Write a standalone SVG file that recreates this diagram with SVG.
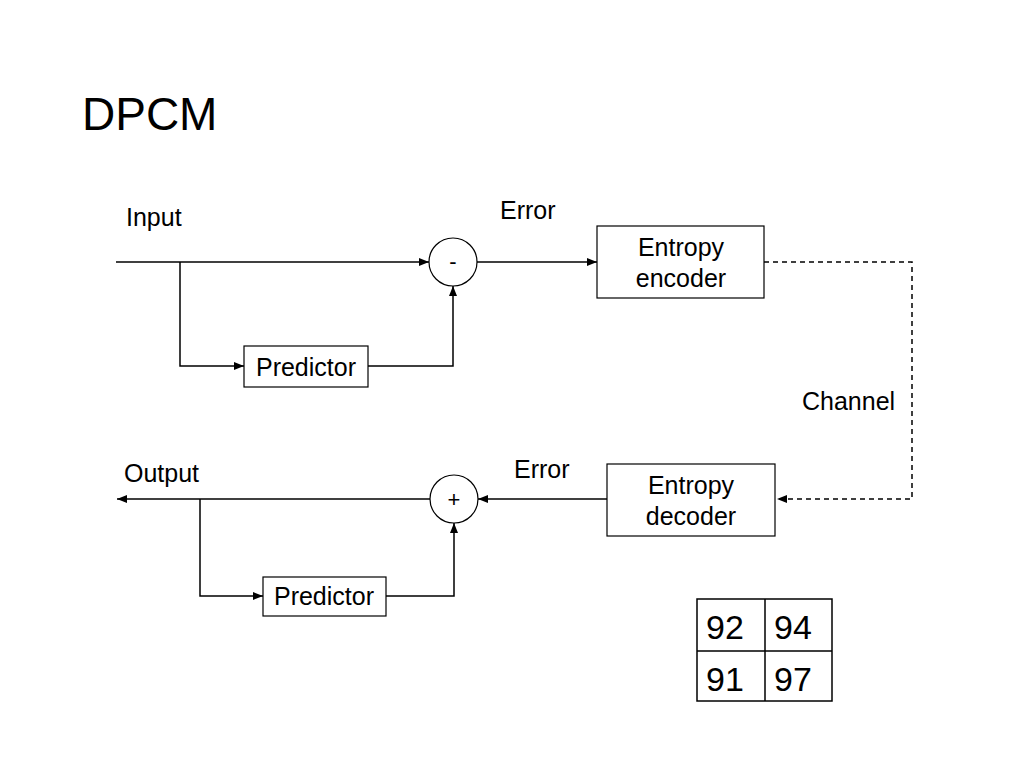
<svg xmlns="http://www.w3.org/2000/svg" width="1024" height="768" viewBox="0 0 1024 768">
<defs>
<marker id="ah" viewBox="0 0 10 10" refX="10" refY="5" markerWidth="10" markerHeight="10" markerUnits="userSpaceOnUse" orient="auto">
<path d="M0,1 L10,5 L0,9 z" fill="#000"/>
</marker>
</defs>
<style>
text{font-family:"Liberation Sans",Arial,sans-serif;fill:#000}
.box{fill:#fff;stroke:#000;stroke-width:1.2}
.ln{fill:none;stroke:#000;stroke-width:1.5}
.dash{fill:none;stroke:#000;stroke-width:1.5;stroke-dasharray:5,4}
.lbl{font-size:25px}
.num{font-size:34px}
</style>
<rect width="1024" height="768" fill="#fff"/>
<text x="82" y="130" font-size="46">DPCM</text>
<text class="lbl" x="126" y="226">Input</text>
<text class="lbl" x="500" y="219">Error</text>
<text class="lbl" x="802" y="410">Channel</text>
<text class="lbl" x="124" y="482">Output</text>
<text class="lbl" x="514" y="478">Error</text>
<g id="connectors">
<path class="ln" d="M116,262 H429" marker-end="url(#ah)"/>
<path class="ln" d="M180,262 V366 H244" marker-end="url(#ah)"/>
<path class="ln" d="M368,366 H453 V286" marker-end="url(#ah)"/>
<path class="ln" d="M477,262 H597" marker-end="url(#ah)"/>
<path class="dash" d="M764,262 H912 V499 H777" marker-end="url(#ah)"/>
<path class="ln" d="M607,499 H478" marker-end="url(#ah)"/>
<path class="ln" d="M430,499 H117" marker-end="url(#ah)"/>
<path class="ln" d="M200,499 V596 H263" marker-end="url(#ah)"/>
<path class="ln" d="M386,596 H454 V523" marker-end="url(#ah)"/>
</g>
<g id="subtract">
<circle class="box" cx="453" cy="262" r="24"/>
<text x="453" y="269" text-anchor="middle" font-size="22">-</text>
</g>
<g id="predictor1">
<rect class="box" x="244" y="346" width="124" height="41"/>
<text class="lbl" x="306" y="376" text-anchor="middle">Predictor</text>
</g>
<g id="encoder">
<rect class="box" x="597" y="226" width="167" height="72"/>
<text class="lbl" x="681" y="256" text-anchor="middle">Entropy</text>
<text class="lbl" x="681" y="287" text-anchor="middle">encoder</text>
</g>
<g id="decoder">
<rect class="box" x="607" y="464" width="168" height="72"/>
<text class="lbl" x="691" y="494" text-anchor="middle">Entropy</text>
<text class="lbl" x="691" y="525" text-anchor="middle">decoder</text>
</g>
<g id="add">
<circle class="box" cx="454" cy="499" r="24"/>
<text x="454" y="507" text-anchor="middle" font-size="22">+</text>
</g>
<g id="predictor2">
<rect class="box" x="263" y="577" width="123" height="39"/>
<text class="lbl" x="324" y="605" text-anchor="middle">Predictor</text>
</g>
<g id="table">
<rect x="697" y="599" width="135" height="102" fill="#fff" stroke="#000" stroke-width="1.5"/>
<path d="M765,599 V701 M697,651 H832" stroke="#000" stroke-width="1.5"/>
<text class="num" x="706" y="639">92</text>
<text class="num" x="774" y="639">94</text>
<text class="num" x="706" y="691">91</text>
<text class="num" x="774" y="691">97</text>
</g>
</svg>
